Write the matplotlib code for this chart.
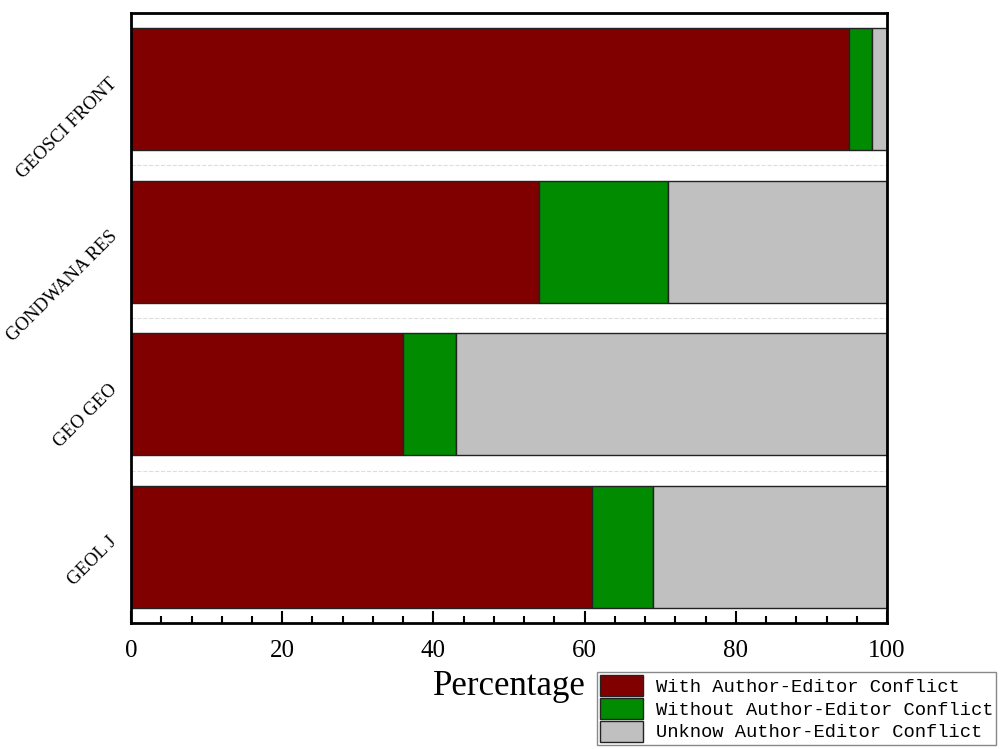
import matplotlib
matplotlib.use("Agg")
import matplotlib.pyplot as plt
import numpy as np
from matplotlib.ticker import MultipleLocator

# journals, top to bottom
journals = ["GEOSCI FRONT", "GONDWANA RES", "GEO GEO", "GEOL J"]
with_conflict = [95, 54, 36, 61]
without_conflict = [3, 17, 7, 8]
unknown_conflict = [2, 29, 57, 31]
labels = ["With Author-Editor Conflict",
          "Without Author-Editor Conflict",
          "Unknow Author-Editor Conflict"]
colors = ["#800000", "#008B00", "#C0C0C0"]

plt.rcParams['font.family'] = ['Liberation Serif', 'DejaVu Serif']

fig = plt.figure(figsize=(10.08, 7.49), dpi=100)
ax = fig.add_axes([0.130, 0.168, 0.750, 0.815])

# reverse so the first journal sits on top
y = np.arange(len(journals))[::-1]
left = np.zeros(len(journals))
for vals, lab, col in zip([with_conflict, without_conflict, unknown_conflict], labels, colors):
    ax.barh(y, vals, left=left, height=0.8, color=col, edgecolor='#222222',
            linewidth=1.0, label=lab, zorder=2)
    left += np.array(vals)

# faint dashed separators between rows
for b in np.arange(0.5, len(journals) - 1, 1.0):
    ax.axhline(b, color='#dddddd', linestyle='--', linewidth=0.8, zorder=1)

ax.set_xlim(0, 100)
ax.set_ylim(-0.5, len(journals) - 0.5)
ax.set_yticks(y + 0.05)
ax.set_yticklabels(journals, rotation=45, ha='right', va='center',
                   rotation_mode='anchor', fontsize=13.5)
ax.tick_params(axis='y', length=0, pad=12)

ax.xaxis.set_major_locator(MultipleLocator(20))
ax.xaxis.set_minor_locator(MultipleLocator(4))
ax.tick_params(axis='x', which='major', direction='in', length=9, width=1.5,
               labelsize=18, pad=12)
ax.tick_params(axis='x', which='minor', direction='in', length=5, width=1.5)
for s in ax.spines.values():
    s.set_linewidth(2)

ax.set_xlabel('Percentage', fontsize=25, labelpad=6)

fig.legend(loc='upper left', bbox_to_anchor=(597 / 1008, 1 - 672 / 749),
           prop={'family': 'Liberation Mono', 'size': 13.5},
           frameon=True, fancybox=False, edgecolor='#888888', framealpha=1,
           handlelength=2.3, handleheight=1.35, labelspacing=0.1,
           handletextpad=0.7, borderpad=0.15, borderaxespad=0)

fig.savefig('out.png', dpi=100)
